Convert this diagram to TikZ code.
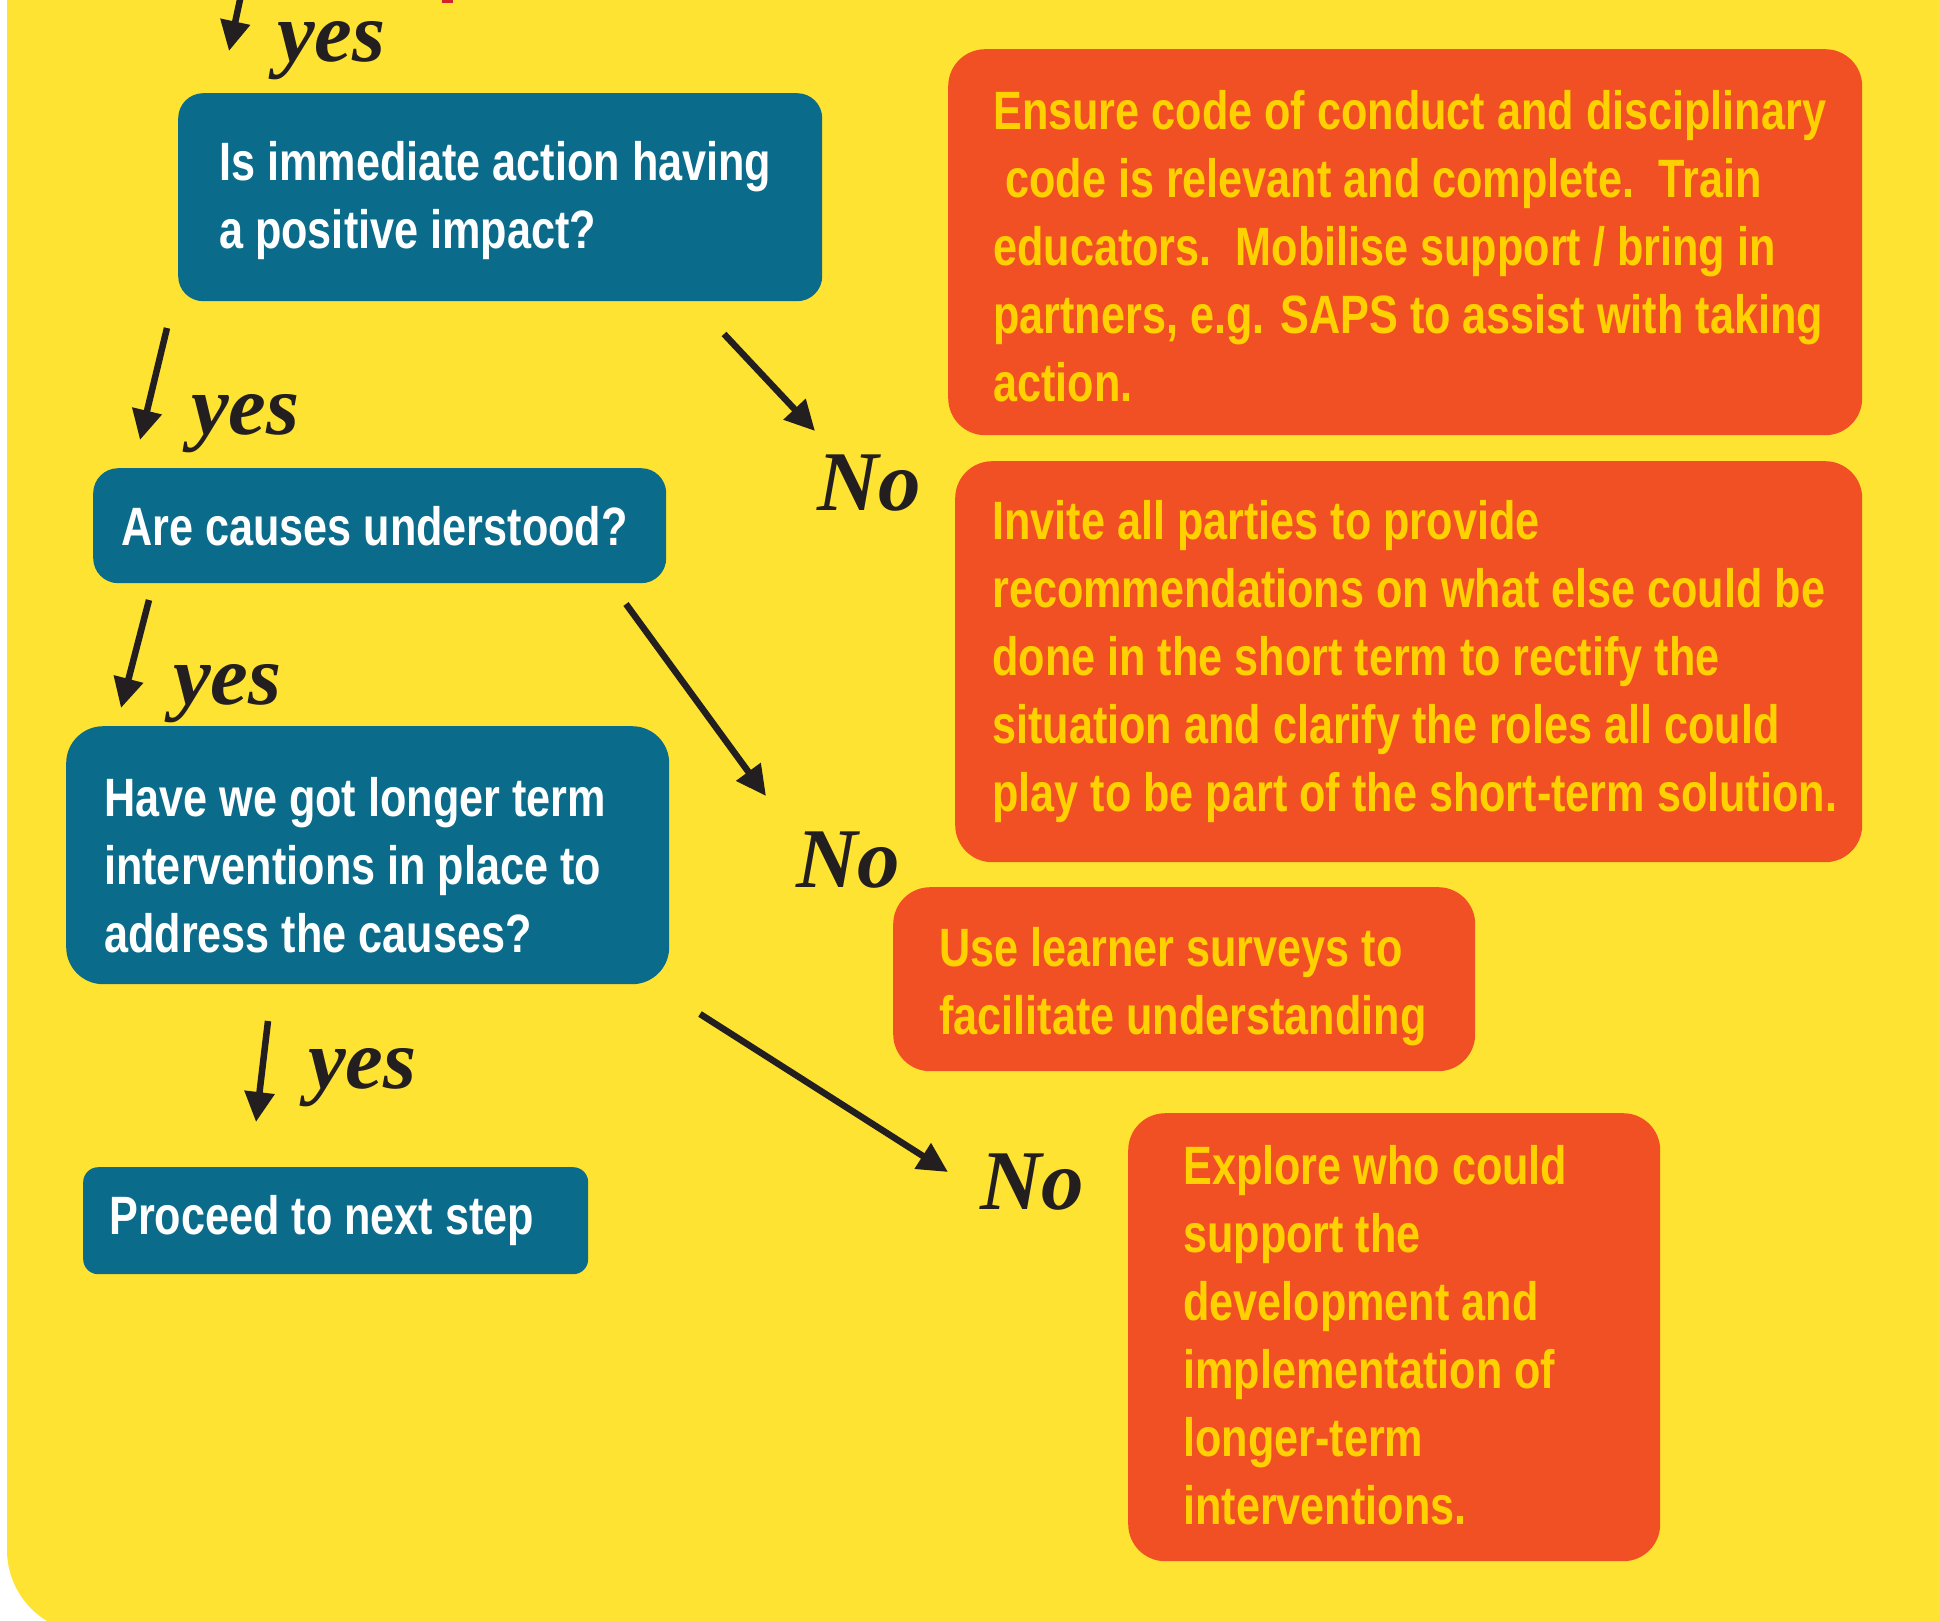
\documentclass[tikz,border=0pt]{standalone}
\usepackage{fontspec}
\usetikzlibrary{arrows.meta}
\newfontfamily\boxfont[FakeStretch=0.80]{Liberation Sans}
\newfontfamily\yesfont{Liberation Serif}
\definecolor{bgyellow}{HTML}{FFE332}
\definecolor{qteal}{HTML}{0B6B8A}
\definecolor{aorange}{HTML}{F15025}
\definecolor{atext}{HTML}{FFD100}
\definecolor{ink}{HTML}{231F20}
\definecolor{redmark}{HTML}{D2232A}
\tikzset{
  qbox/.style={fill=qteal, draw=none, anchor=north west, inner sep=0pt, rounded corners=25pt},
  abox/.style={fill=aorange, draw=none, anchor=north west, inner sep=0pt, rounded corners=37pt},
  qtext/.style={text=white, anchor=west, align=left, inner sep=0pt, font=\boxfont\bfseries\fontsize{54}{68}\selectfont},
  atxt/.style={text=atext, anchor=west, align=left, inner sep=0pt, font=\boxfont\bfseries\fontsize{54}{68}\selectfont},
  arr/.style={draw=ink, line width=6.5pt, -{Triangle[width=29pt,length=30pt]}},
  lbl/.style={text=ink, anchor=base west, inner sep=0pt, font=\yesfont\bfseries\itshape\fontsize{85}{85}\selectfont}
}
\begin{document}
\begin{tikzpicture}[x=1pt,y=-1pt]
\useasboundingbox (0,0) rectangle (1940,1621);
\fill[white] (0,0) rectangle (1940,1621);
\fill[bgyellow, rounded corners=83pt] (7,-100) rectangle (2040,1633);
\fill[redmark] (442,0) rectangle (453,3);

% question boxes
\node[qbox, minimum width=644pt, minimum height=208pt] (q1) at (178,93) {};
\node[qtext] (q1t) at ([xshift=41pt,yshift=-3pt]q1.west) {Is immediate action having\\a positive impact?};
\node[qbox, minimum width=573pt, minimum height=115pt] (q2) at (93,468) {};
\node[qtext] (q2t) at ([xshift=28pt]q2.west) {Are causes understood?};
\node[qbox, rounded corners=37pt, minimum width=603pt, minimum height=258pt] (q3) at (66,726) {};
\node[qtext] (q3t) at ([xshift=38pt,yshift=-10pt]q3.west) {Have we got longer term\\interventions in place to\\address the causes?};
\node[qbox, rounded corners=15pt, minimum width=505pt, minimum height=107pt] (q4) at (83,1167) {};
\node[qtext] (q4t) at ([xshift=26pt]q4.west) {Proceed to next step};

% answer boxes
\node[abox, minimum width=914pt, minimum height=386pt] (a1) at (948,49) {};
\node[atxt] (a1t) at ([xshift=45pt,yshift=-4pt]a1.west) {Ensure code of conduct and disciplinary\\\hspace*{12pt}code is relevant and complete.\ \ Train\\educators.\ \ Mobilise support / bring in\\partners, e.g. SAPS to assist with taking\\action.};
\node[abox, minimum width=907pt, minimum height=401pt] (a2) at (955,461) {};
\node[atxt] (a2t) at ([xshift=37pt]a2.west) {Invite all parties to provide\\recommendations on what else could be\\done in the short term to rectify the\\situation and clarify the roles all could\\play to be part of the short-term solution.};
\node[abox, minimum width=582pt, minimum height=184pt] (a3) at (893,887) {};
\node[atxt] (a3t) at ([xshift=46pt,yshift=-7pt]a3.west) {Use learner surveys to\\facilitate understanding};
\node[abox, minimum width=532pt, minimum height=448pt] (a4) at (1128,1113) {};
\node[atxt] (a4t) at ([xshift=55pt,yshift=2pt]a4.west) {Explore who could\\support the\\development and\\implementation of\\longer-term\\interventions.};

% arrow end points
\coordinate (ya1) at (241,-5);  \coordinate (ya2) at (229,51);
\coordinate (yb1) at (167,328); \coordinate (yb2) at (140,440);
\coordinate (yc1) at (149,600); \coordinate (yc2) at (121,708);
\coordinate (yd1) at (268,1021);\coordinate (yd2) at (256,1122);
\coordinate (na1) at (724,334); \coordinate (na2) at (815,431);
\coordinate (nb1) at (626,604); \coordinate (nb2) at (766,796);
\coordinate (nc1) at (700,1014);\coordinate (nc2) at (948,1172);

\draw[arr] (ya1) -- (ya2);
\draw[arr] (yb1) -- (yb2);
\draw[arr] (yc1) -- (yc2);
\draw[arr] (yd1) -- (yd2);
\draw[arr] (na1) -- (na2);
\draw[arr] (nb1) -- (nb2);
\draw[arr] (nc1) -- (nc2);

% labels
\node[lbl] (yes1) at (277,62) {yes};
\node[lbl] (yes2) at (191,434) {yes};
\node[lbl] (yes3) at (173,704) {yes};
\node[lbl] (yes4) at (308,1088) {yes};
\node[lbl] (no1) at (817,510) {No};
\node[lbl] (no2) at (796,887) {No};
\node[lbl] (no3) at (980,1209) {No};
\end{tikzpicture}
\end{document}
